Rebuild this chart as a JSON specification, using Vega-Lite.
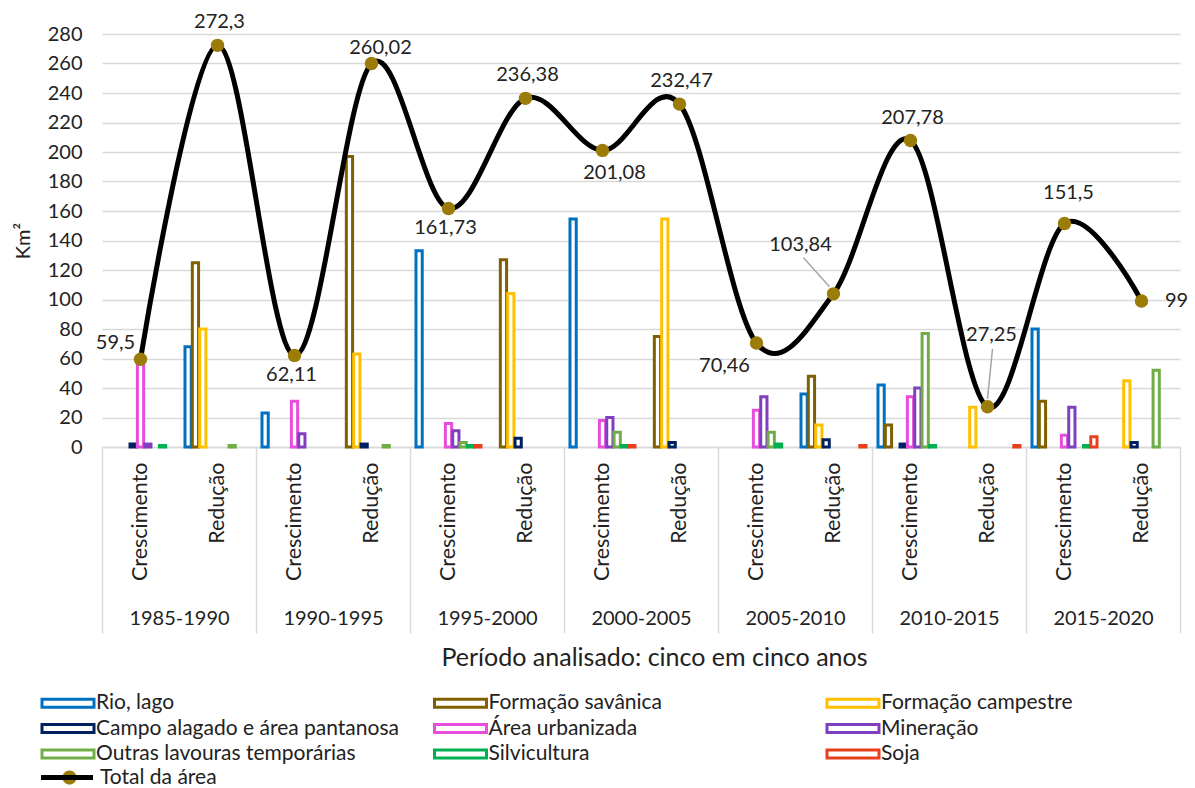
{
  "$schema": "https://vega.github.io/schema/vega-lite/v6.json",
  "width": 1078,
  "height": 413,
  "autosize": {"type": "none"},
  "padding": {"left": 102, "top": 34, "right": 15, "bottom": 341},
  "config": {
    "font": "Lato",
    "view": {"stroke": null},
    "locale": {"number": {"decimal": ",", "thousands": ".", "grouping": [3], "currency": ["R$", ""]}},
    "axis": {"labelColor": "#222222", "titleColor": "#222222", "labelFont": "Lato", "titleFont": "Lato"},
    "legend": {"labelColor": "#222222", "labelFont": "Lato", "padding": 0}
  },
  "datasets": {
    "barras": [
      {"periodo": "1985-1990", "tipo": "Crescimento", "categoria": "Campo alagado e área pantanosa", "valor": 2},
      {"periodo": "1985-1990", "tipo": "Crescimento", "categoria": "Área urbanizada", "valor": 57},
      {"periodo": "1985-1990", "tipo": "Crescimento", "categoria": "Mineração", "valor": 2},
      {"periodo": "1985-1990", "tipo": "Crescimento", "categoria": "Silvicultura", "valor": 1},
      {"periodo": "1985-1990", "tipo": "Redução", "categoria": "Rio, lago", "valor": 68},
      {"periodo": "1985-1990", "tipo": "Redução", "categoria": "Formação savânica", "valor": 125},
      {"periodo": "1985-1990", "tipo": "Redução", "categoria": "Formação campestre", "valor": 80},
      {"periodo": "1985-1990", "tipo": "Redução", "categoria": "Outras lavouras temporárias", "valor": 1},
      {"periodo": "1990-1995", "tipo": "Crescimento", "categoria": "Rio, lago", "valor": 23},
      {"periodo": "1990-1995", "tipo": "Crescimento", "categoria": "Área urbanizada", "valor": 31},
      {"periodo": "1990-1995", "tipo": "Crescimento", "categoria": "Mineração", "valor": 9},
      {"periodo": "1990-1995", "tipo": "Redução", "categoria": "Formação savânica", "valor": 197},
      {"periodo": "1990-1995", "tipo": "Redução", "categoria": "Formação campestre", "valor": 63},
      {"periodo": "1990-1995", "tipo": "Redução", "categoria": "Campo alagado e área pantanosa", "valor": 2},
      {"periodo": "1990-1995", "tipo": "Redução", "categoria": "Outras lavouras temporárias", "valor": 1},
      {"periodo": "1995-2000", "tipo": "Crescimento", "categoria": "Rio, lago", "valor": 133},
      {"periodo": "1995-2000", "tipo": "Crescimento", "categoria": "Área urbanizada", "valor": 16},
      {"periodo": "1995-2000", "tipo": "Crescimento", "categoria": "Mineração", "valor": 11},
      {"periodo": "1995-2000", "tipo": "Crescimento", "categoria": "Outras lavouras temporárias", "valor": 3},
      {"periodo": "1995-2000", "tipo": "Crescimento", "categoria": "Silvicultura", "valor": 1},
      {"periodo": "1995-2000", "tipo": "Crescimento", "categoria": "Soja", "valor": 1},
      {"periodo": "1995-2000", "tipo": "Redução", "categoria": "Formação savânica", "valor": 127},
      {"periodo": "1995-2000", "tipo": "Redução", "categoria": "Formação campestre", "valor": 104},
      {"periodo": "1995-2000", "tipo": "Redução", "categoria": "Campo alagado e área pantanosa", "valor": 6},
      {"periodo": "2000-2005", "tipo": "Crescimento", "categoria": "Rio, lago", "valor": 154.5},
      {"periodo": "2000-2005", "tipo": "Crescimento", "categoria": "Área urbanizada", "valor": 18},
      {"periodo": "2000-2005", "tipo": "Crescimento", "categoria": "Mineração", "valor": 20},
      {"periodo": "2000-2005", "tipo": "Crescimento", "categoria": "Outras lavouras temporárias", "valor": 10},
      {"periodo": "2000-2005", "tipo": "Crescimento", "categoria": "Silvicultura", "valor": 1},
      {"periodo": "2000-2005", "tipo": "Crescimento", "categoria": "Soja", "valor": 1},
      {"periodo": "2000-2005", "tipo": "Redução", "categoria": "Formação savânica", "valor": 75},
      {"periodo": "2000-2005", "tipo": "Redução", "categoria": "Formação campestre", "valor": 154.5},
      {"periodo": "2000-2005", "tipo": "Redução", "categoria": "Campo alagado e área pantanosa", "valor": 3},
      {"periodo": "2005-2010", "tipo": "Crescimento", "categoria": "Área urbanizada", "valor": 25},
      {"periodo": "2005-2010", "tipo": "Crescimento", "categoria": "Mineração", "valor": 34},
      {"periodo": "2005-2010", "tipo": "Crescimento", "categoria": "Outras lavouras temporárias", "valor": 10},
      {"periodo": "2005-2010", "tipo": "Crescimento", "categoria": "Silvicultura", "valor": 2},
      {"periodo": "2005-2010", "tipo": "Redução", "categoria": "Rio, lago", "valor": 36},
      {"periodo": "2005-2010", "tipo": "Redução", "categoria": "Formação savânica", "valor": 48},
      {"periodo": "2005-2010", "tipo": "Redução", "categoria": "Formação campestre", "valor": 15},
      {"periodo": "2005-2010", "tipo": "Redução", "categoria": "Campo alagado e área pantanosa", "valor": 5},
      {"periodo": "2005-2010", "tipo": "Redução", "categoria": "Soja", "valor": 1},
      {"periodo": "2010-2015", "tipo": "Crescimento", "categoria": "Rio, lago", "valor": 42},
      {"periodo": "2010-2015", "tipo": "Crescimento", "categoria": "Formação savânica", "valor": 15},
      {"periodo": "2010-2015", "tipo": "Crescimento", "categoria": "Campo alagado e área pantanosa", "valor": 2},
      {"periodo": "2010-2015", "tipo": "Crescimento", "categoria": "Área urbanizada", "valor": 34},
      {"periodo": "2010-2015", "tipo": "Crescimento", "categoria": "Mineração", "valor": 40},
      {"periodo": "2010-2015", "tipo": "Crescimento", "categoria": "Outras lavouras temporárias", "valor": 77},
      {"periodo": "2010-2015", "tipo": "Crescimento", "categoria": "Silvicultura", "valor": 1},
      {"periodo": "2010-2015", "tipo": "Redução", "categoria": "Formação campestre", "valor": 27},
      {"periodo": "2010-2015", "tipo": "Redução", "categoria": "Soja", "valor": 1},
      {"periodo": "2015-2020", "tipo": "Crescimento", "categoria": "Rio, lago", "valor": 80},
      {"periodo": "2015-2020", "tipo": "Crescimento", "categoria": "Formação savânica", "valor": 31},
      {"periodo": "2015-2020", "tipo": "Crescimento", "categoria": "Área urbanizada", "valor": 8},
      {"periodo": "2015-2020", "tipo": "Crescimento", "categoria": "Mineração", "valor": 27},
      {"periodo": "2015-2020", "tipo": "Crescimento", "categoria": "Silvicultura", "valor": 1},
      {"periodo": "2015-2020", "tipo": "Crescimento", "categoria": "Soja", "valor": 7},
      {"periodo": "2015-2020", "tipo": "Redução", "categoria": "Formação campestre", "valor": 45},
      {"periodo": "2015-2020", "tipo": "Redução", "categoria": "Campo alagado e área pantanosa", "valor": 3},
      {"periodo": "2015-2020", "tipo": "Redução", "categoria": "Outras lavouras temporárias", "valor": 52}
    ],
    "totais": [
      {"periodo": "1985-1990", "tipo": "Crescimento", "valor": 59.5},
      {"periodo": "1985-1990", "tipo": "Redução", "valor": 272.3},
      {"periodo": "1990-1995", "tipo": "Crescimento", "valor": 62.11},
      {"periodo": "1990-1995", "tipo": "Redução", "valor": 260.02},
      {"periodo": "1995-2000", "tipo": "Crescimento", "valor": 161.73},
      {"periodo": "1995-2000", "tipo": "Redução", "valor": 236.38},
      {"periodo": "2000-2005", "tipo": "Crescimento", "valor": 201.08},
      {"periodo": "2000-2005", "tipo": "Redução", "valor": 232.47},
      {"periodo": "2005-2010", "tipo": "Crescimento", "valor": 70.46},
      {"periodo": "2005-2010", "tipo": "Redução", "valor": 103.84},
      {"periodo": "2010-2015", "tipo": "Crescimento", "valor": 207.78},
      {"periodo": "2010-2015", "tipo": "Redução", "valor": 27.25},
      {"periodo": "2015-2020", "tipo": "Crescimento", "valor": 151.5},
      {"periodo": "2015-2020", "tipo": "Redução", "valor": 99}
    ]
  },
  "layer": [
    {
      "encoding": {
        "x": {
          "field": "chave", "type": "nominal",
          "scale": {"type": "band", "paddingInner": 0, "paddingOuter": 0,
            "domain": ["1985-1990|Crescimento", "1985-1990|Redução", "1990-1995|Crescimento", "1990-1995|Redução", "1995-2000|Crescimento", "1995-2000|Redução", "2000-2005|Crescimento", "2000-2005|Redução", "2005-2010|Crescimento", "2005-2010|Redução", "2010-2015|Crescimento", "2010-2015|Redução", "2015-2020|Crescimento", "2015-2020|Redução"]},
          "axis": {"orient": "bottom", "title": null, "labelExpr": "split(datum.value, '|')[1]", "labelAngle": 270, "labelFontSize": 21.5, "labelPadding": 15, "ticks": false, "grid": false, "domain": true, "domainColor": "#d9d9d9", "domainWidth": 1.5, "labelLimit": 200}
        },
        "y": {
          "field": "valor", "type": "quantitative",
          "scale": {"domain": [0, 280], "nice": false},
          "axis": {"values": [0, 20, 40, 60, 80, 100, 120, 140, 160, 180, 200, 220, 240, 260, 280], "title": "Km²", "titleFontSize": 20, "titleFontWeight": "normal", "titlePadding": 14, "labelFontSize": 20, "labelPadding": 20, "ticks": false, "domain": false, "gridColor": "#d9d9d9", "gridWidth": 1.5}
        }
      },
      "layer": [
        {
          "data": {"name": "barras"},
          "transform": [{"calculate": "datum.periodo + '|' + datum.tipo", "as": "chave"}],
          "mark": {"type": "bar", "fill": "white", "strokeWidth": 3},
          "encoding": {
            "xOffset": {"field": "categoria", "type": "nominal", "scale": {"domain": ["Rio, lago", "Formação savânica", "Formação campestre", "Campo alagado e área pantanosa", "Área urbanizada", "Mineração", "Outras lavouras temporárias", "Silvicultura", "Soja"], "paddingInner": 0.15, "paddingOuter": 0.815}},
            "stroke": {
              "field": "categoria", "type": "nominal",
              "scale": {"domain": ["Rio, lago", "Formação savânica", "Formação campestre", "Campo alagado e área pantanosa", "Área urbanizada", "Mineração", "Outras lavouras temporárias", "Silvicultura", "Soja"],
                "range": ["#0070C0", "#7F6000", "#FFC000", "#002060", "#E84EDC", "#7F3FBF", "#70AD47", "#00B050", "#E8401C"]},
              "legend": {"orient": "none", "legendX": -44.5, "legendY": 658.5, "direction": "horizontal", "columns": 3, "gridAlign": "all", "columnPadding": 28.5, "rowPadding": 3.5, "title": null, "symbolType": "M-4,-0.6H4V0.6H-4Z", "symbolSize": 169, "symbolStrokeWidth": 3, "symbolFillColor": "white", "labelFontSize": 21, "labelOffset": 17.5, "labelLimit": 400}
            }
          }
        },
        {
          "data": {"name": "totais"},
          "transform": [{"calculate": "datum.periodo + '|' + datum.tipo", "as": "chave"}],
          "mark": {"type": "line", "interpolate": "cardinal", "strokeWidth": 5},
          "encoding": {
            "stroke": {"datum": "Total da área", "scale": {"range": ["#000000"]},
              "legend": {"orient": "none", "legendX": -45.5, "legendY": 733, "title": null, "symbolType": "M-4,0H4", "symbolSize": 169, "symbolStrokeWidth": 5, "symbolFillColor": "transparent", "labelFontSize": 21, "labelOffset": 22.5}}
          }
        },
        {
          "data": {"name": "totais"},
          "transform": [{"calculate": "datum.periodo + '|' + datum.tipo", "as": "chave"}],
          "mark": {"type": "circle", "size": 180, "opacity": 1},
          "encoding": {
            "fill": {"datum": "Total da área", "scale": {"range": ["#9C7C08"]},
              "legend": {"orient": "none", "legendX": -43, "legendY": 733, "title": null, "symbolType": "M1.08,0A1.08,1.08 0 1 1 -1.08,0A1.08,1.08 0 1 1 1.08,0Z", "symbolSize": 169, "symbolStrokeWidth": 0, "labelFontSize": 21, "labelOffset": 22.5, "labelExpr": "''"}}
          }
        },
        {
          "data": {"name": "totais"},
          "transform": [{"calculate": "datum.periodo + '|' + datum.tipo", "as": "chave"}, {"filter": {"field": "chave", "oneOf": ["1985-1990|Redução", "1995-2000|Redução", "2000-2005|Redução", "2010-2015|Crescimento"]}}],
          "mark": {"type": "text", "dy": -23, "dx": 2, "fontSize": 20, "color": "#222222"},
          "encoding": {"text": {"field": "valor", "type": "quantitative", "format": "~g"}}
        },
        {
          "data": {"name": "totais"},
          "transform": [{"calculate": "datum.periodo + '|' + datum.tipo", "as": "chave"}, {"filter": {"field": "chave", "oneOf": ["1990-1995|Redução"]}}],
          "mark": {"type": "text", "dy": -15, "dx": 9, "fontSize": 20, "color": "#222222"},
          "encoding": {"text": {"field": "valor", "type": "quantitative", "format": "~g"}}
        },
        {
          "data": {"name": "totais"},
          "transform": [{"calculate": "datum.periodo + '|' + datum.tipo", "as": "chave"}, {"filter": {"field": "chave", "oneOf": ["2015-2020|Crescimento"]}}],
          "mark": {"type": "text", "dy": -31, "dx": 4, "fontSize": 20, "color": "#222222"},
          "encoding": {"text": {"field": "valor", "type": "quantitative", "format": "~g"}}
        },
        {
          "data": {"name": "totais"},
          "transform": [{"calculate": "datum.periodo + '|' + datum.tipo", "as": "chave"}, {"filter": {"field": "chave", "oneOf": ["1990-1995|Crescimento", "1995-2000|Crescimento"]}}],
          "mark": {"type": "text", "dy": 20, "dx": -3, "fontSize": 20, "color": "#222222"},
          "encoding": {"text": {"field": "valor", "type": "quantitative", "format": "~g"}}
        },
        {
          "data": {"name": "totais"},
          "transform": [{"calculate": "datum.periodo + '|' + datum.tipo", "as": "chave"}, {"filter": {"field": "chave", "oneOf": ["2000-2005|Crescimento"]}}],
          "mark": {"type": "text", "dy": 23, "dx": 12, "fontSize": 20, "color": "#222222"},
          "encoding": {"text": {"field": "valor", "type": "quantitative", "format": "~g"}}
        },
        {
          "data": {"name": "totais"},
          "transform": [{"calculate": "datum.periodo + '|' + datum.tipo", "as": "chave"}, {"filter": {"field": "chave", "oneOf": ["1985-1990|Crescimento"]}}],
          "mark": {"type": "text", "dy": -16, "dx": -25, "fontSize": 20, "color": "#222222"},
          "encoding": {"text": {"field": "valor", "type": "quantitative", "format": "~g"}}
        },
        {
          "data": {"name": "totais"},
          "transform": [{"calculate": "datum.periodo + '|' + datum.tipo", "as": "chave"}, {"filter": {"field": "chave", "oneOf": ["2005-2010|Crescimento"]}}],
          "mark": {"type": "text", "dy": 23, "dx": -32, "fontSize": 20, "color": "#222222"},
          "encoding": {"text": {"field": "valor", "type": "quantitative", "format": "~g"}}
        },
        {
          "data": {"name": "totais"},
          "transform": [{"calculate": "datum.periodo + '|' + datum.tipo", "as": "chave"}, {"filter": {"field": "chave", "oneOf": ["2005-2010|Redução"]}}],
          "mark": {"type": "text", "dy": -49, "dx": -33, "fontSize": 20, "color": "#222222"},
          "encoding": {"text": {"field": "valor", "type": "quantitative", "format": "~g"}}
        },
        {
          "data": {"name": "totais"},
          "transform": [{"calculate": "datum.periodo + '|' + datum.tipo", "as": "chave"}, {"filter": {"field": "chave", "oneOf": ["2010-2015|Redução"]}}],
          "mark": {"type": "text", "dy": -72, "dx": 4, "fontSize": 20, "color": "#222222"},
          "encoding": {"text": {"field": "valor", "type": "quantitative", "format": "~g"}}
        },
        {
          "data": {"name": "totais"},
          "transform": [{"calculate": "datum.periodo + '|' + datum.tipo", "as": "chave"}, {"filter": {"field": "chave", "oneOf": ["2015-2020|Redução"]}}],
          "mark": {"type": "text", "dy": 0, "dx": 35, "fontSize": 20, "color": "#222222"},
          "encoding": {"text": {"field": "valor", "type": "quantitative", "format": "~g"}}
        },
        {
          "data": {"name": "totais"},
          "transform": [{"calculate": "datum.periodo + '|' + datum.tipo", "as": "chave"}, {"filter": {"field": "chave", "oneOf": ["2005-2010|Redução"]}}],
          "mark": {"type": "rule", "color": "#a6a6a6", "strokeWidth": 1.5, "xOffset": -30, "x2Offset": -4, "yOffset": -36, "y2Offset": -7},
          "encoding": {"x2": {"field": "chave"}, "y2": {"field": "valor"}}
        },
        {
          "data": {"name": "totais"},
          "transform": [{"calculate": "datum.periodo + '|' + datum.tipo", "as": "chave"}, {"filter": {"field": "chave", "oneOf": ["2010-2015|Redução"]}}],
          "mark": {"type": "rule", "color": "#a6a6a6", "strokeWidth": 1.5, "xOffset": 5, "x2Offset": 0, "yOffset": -58, "y2Offset": -8},
          "encoding": {"x2": {"field": "chave"}, "y2": {"field": "valor"}}
        }
      ],
      "resolve": {"scale": {"stroke": "independent"}}
    },
    {
      "data": {"name": "totais"},
      "mark": {"type": "rule", "opacity": 0},
      "encoding": {
        "x": {
          "field": "periodo", "type": "nominal",
          "scale": {"type": "band", "paddingInner": 0, "paddingOuter": 0},
          "axis": {"orient": "bottom", "offset": 0, "title": "Período analisado: cinco em cinco anos", "titleFontSize": 25, "titleFontWeight": "normal", "titlePadding": 12, "titleX": 552, "titleAlign": "center", "labelAngle": 0, "labelFontSize": 20, "labelPadding": -25, "ticks": true, "tickBand": "extent", "tickSize": 186, "tickColor": "#d9d9d9", "tickWidth": 1.5, "domain": false, "grid": false}
        }
      }
    }
  ],
  "resolve": {"scale": {"x": "independent"}}
}
